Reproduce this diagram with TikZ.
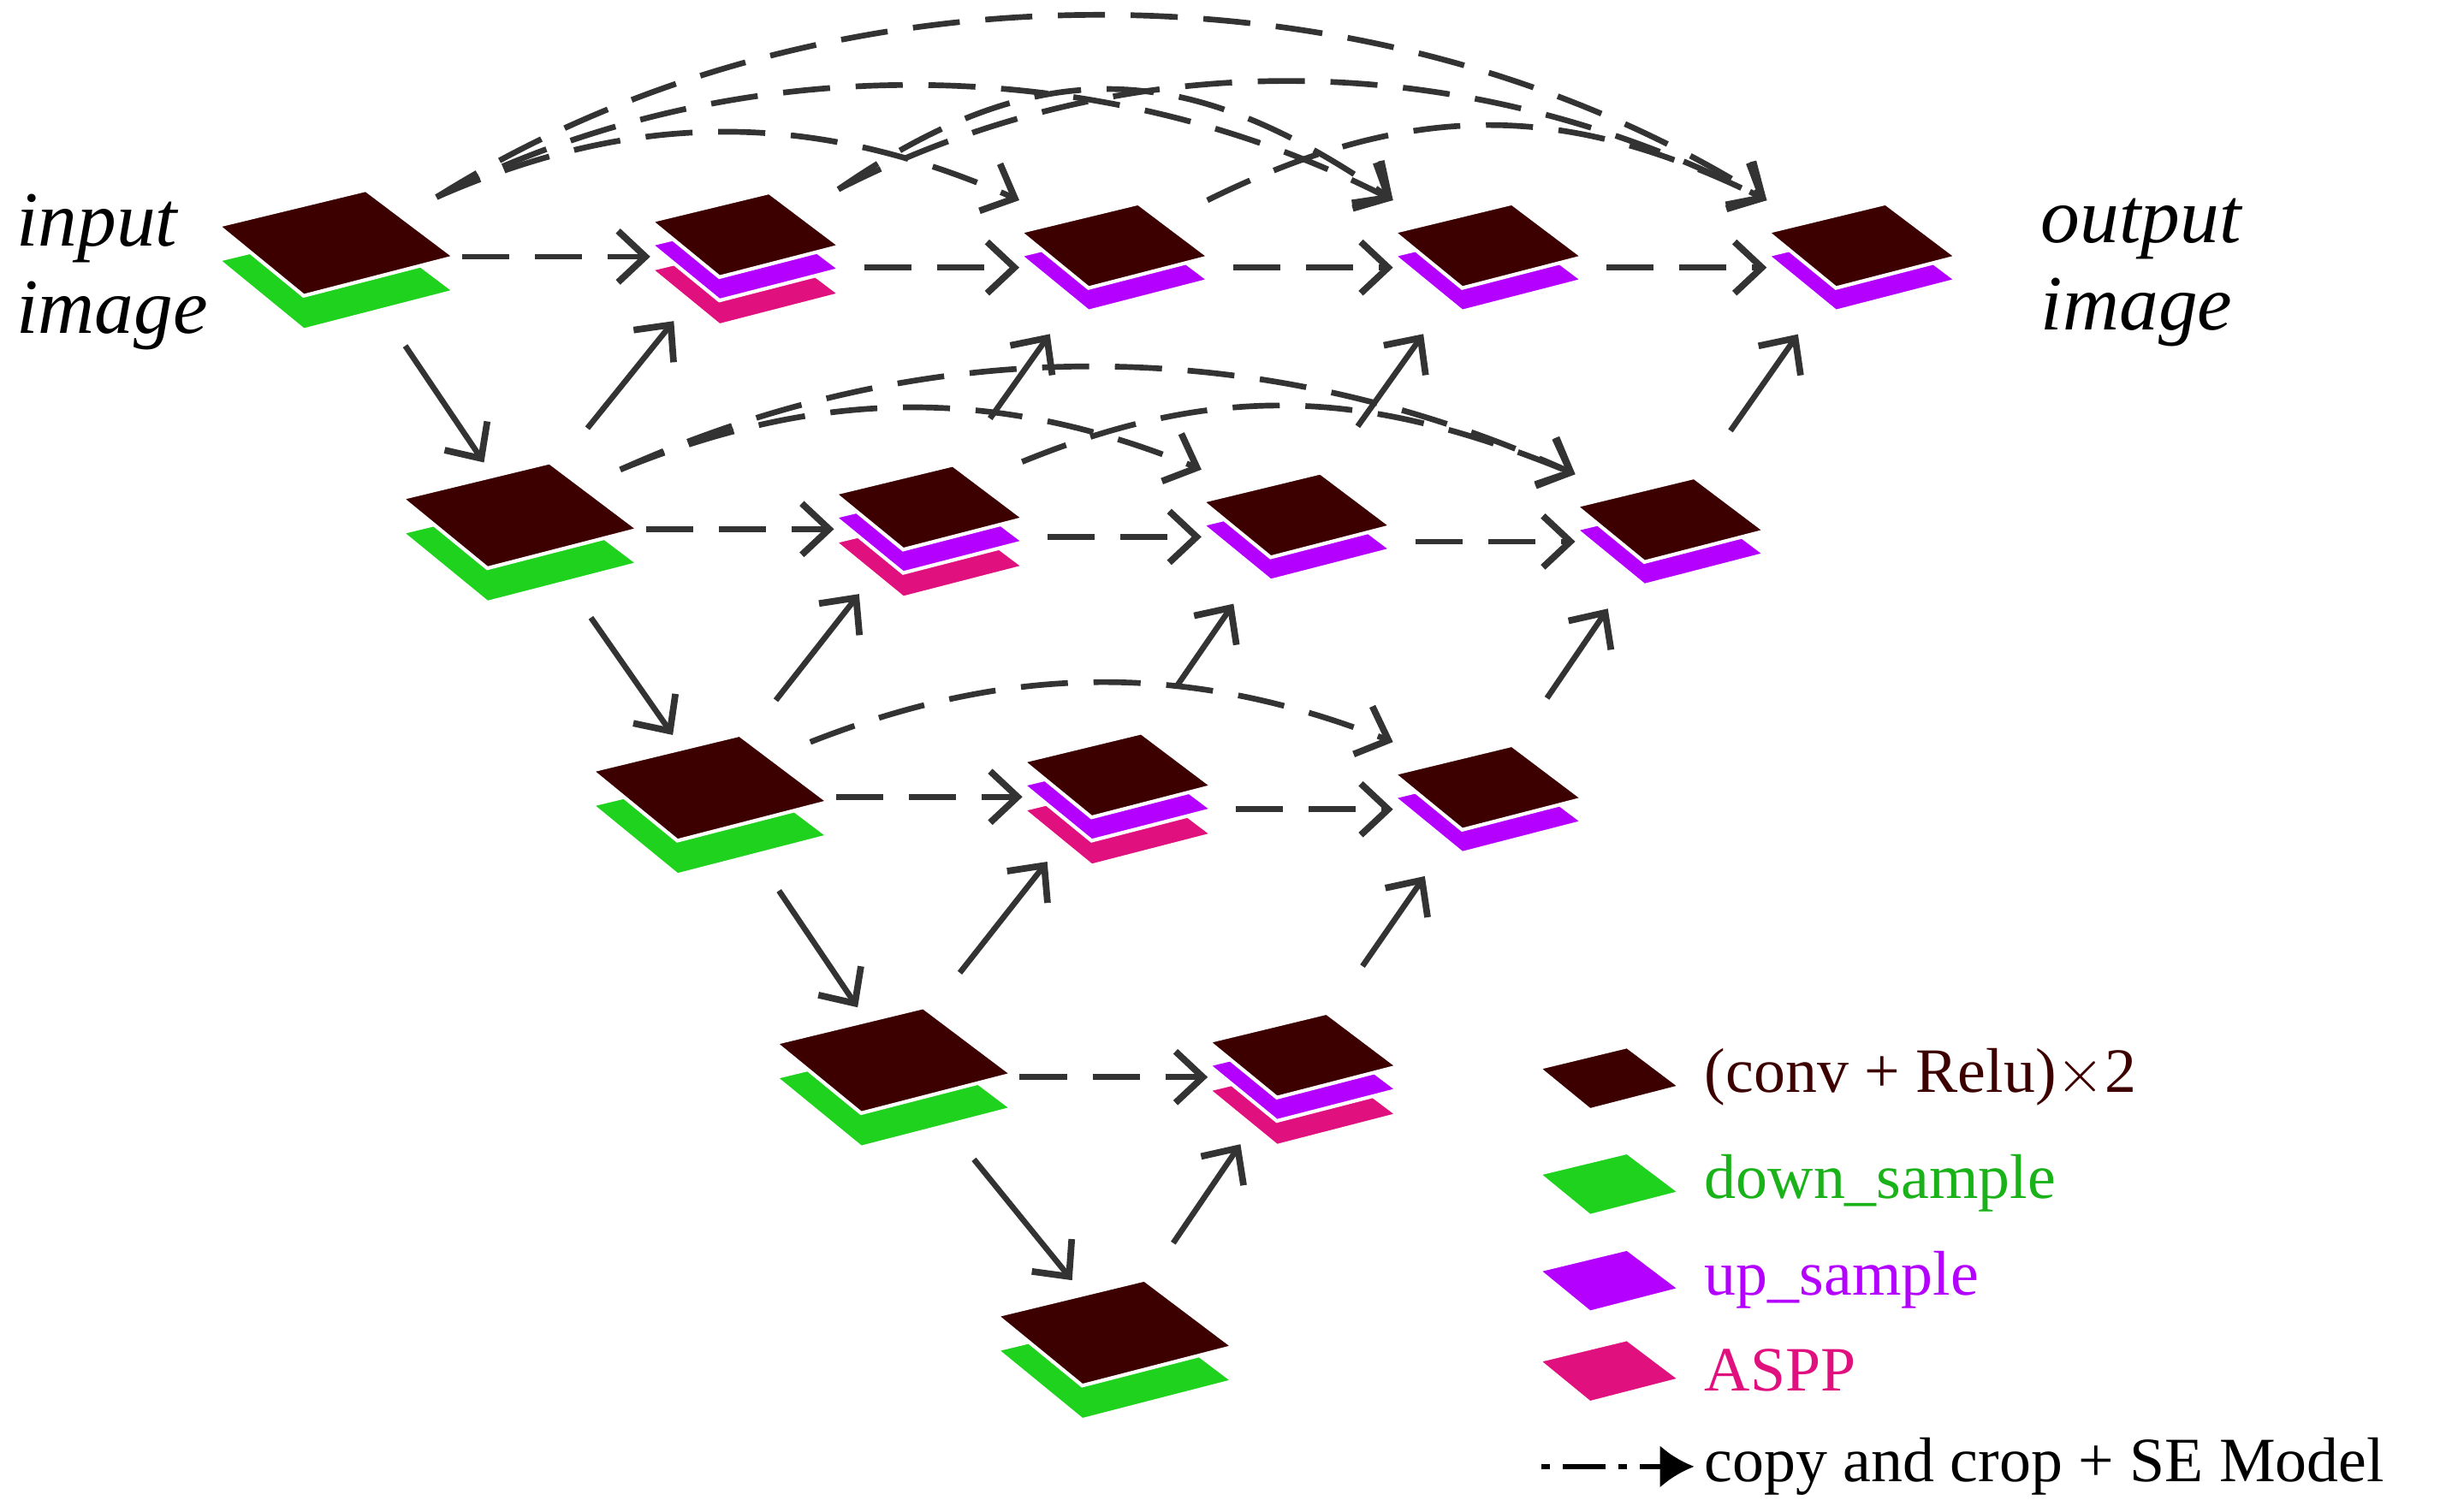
\documentclass[tikz,border=0pt]{standalone}
\usepackage{fontspec}
\setmainfont{Liberation Serif}
\usepackage{xcolor}
\usetikzlibrary{arrows.meta}
\definecolor{convc}{HTML}{3D0000}
\definecolor{downc}{HTML}{1ED21E}
\definecolor{upc}{HTML}{B400FF}
\definecolor{asppc}{HTML}{E0117F}
\definecolor{arrc}{HTML}{333333}
% one flat layer: centre, scale, colour, vertical offset
\newcommand\layer[4]{\filldraw[draw=white,line width=1.2pt,fill=#3,shift={(#1)}]
  (-75*#2,-10*#2+#4) -- (20*#2,-33*#2+#4) -- (77*#2,10*#2+#4) -- (-20*#2,35*#2+#4) -- cycle;}
\newcommand\enc[1]{\layer{#1}{1}{downc}{22}\layer{#1}{1}{convc}{0}}
\newcommand\dec[1]{\layer{#1}{0.8}{upc}{15}\layer{#1}{0.8}{convc}{0}}
\newcommand\decaspp[1]{\layer{#1}{0.8}{asppc}{31}\layer{#1}{0.8}{upc}{15}\layer{#1}{0.8}{convc}{0}}
\begin{document}
\begin{tikzpicture}[x=0.018194cm,y=-0.018194cm,
  box/.style={inner sep=0pt,minimum height=56*0.018194cm},
  enc/.style={box,minimum width=130*0.018194cm},
  dec/.style={box,minimum width=120*0.018194cm},
  arr/.style={draw=arrc,line width=1.9pt,-{Straight Barb[length=3.2mm,width=6mm,line width=2.2pt]}},
  copy/.style={arr,dash pattern=on 5.5mm off 3mm},
  down/.style={arr,shorten <=0.85cm,shorten >=0.1cm},
  up/.style={arr,shorten <=0.62cm,shorten >=0.65cm}]
\useasboundingbox (0,0) rectangle (1567,971);

% encoder column
\node [enc] (x00) at (215,155) {};
\node [enc] (x10) at (333,330) {};
\node [enc] (x20) at (455,505) {};
\node [enc] (x30) at (573,680) {};
\node [enc] (x40) at (715,855) {};
% nested decoder nodes
\node [dec] (x01) at (478,150) {};
\node [dec] (x11) at (596,325) {};
\node [dec] (x21) at (717,497) {};
\node [dec] (x31) at (836,677) {};
\node [dec] (x02) at (715,157) {};
\node [dec] (x12) at (832,330) {};
\node [dec] (x22) at (955,505) {};
\node [dec] (x03) at (955,157) {};
\node [dec] (x13) at (1072,333) {};
\node [dec] (x04) at (1195,157) {};

\enc{x00}\enc{x10}\enc{x20}\enc{x30}\enc{x40}
\decaspp{x01}\decaspp{x11}\decaspp{x21}\decaspp{x31}
\dec{x02}\dec{x12}\dec{x22}\dec{x03}\dec{x13}\dec{x04}

\node [align=left,font=\itshape\fontsize{26}{29}\selectfont] (in) at (72,175) {input\\image};
\node [align=left,font=\itshape\fontsize{26}{29}\selectfont] (out) at (1375,175) {output\\image};

% down and up arrows
\foreach \a/\b in {x00/x10,x10/x20,x20/x30,x30/x40}
  \draw [down] (\a) -- (\b);
\foreach \a/\b in {x10/x01,x20/x11,x11/x02,x30/x21,x21/x12,x12/x03,x40/x31,x31/x22,x22/x13,x13/x04}
  \draw [up] (\a) -- (\b);

% skip connections
\foreach \a/\b in {x00/x01,x01/x02,x02/x03,x03/x04,x10/x11,x11/x12,x12/x13,x20/x21,x21/x22,x30/x31}
  \draw [copy] ([xshift=0.3cm,yshift=-0.27cm]\a.east |- \b.west) -- ([yshift=-0.27cm]\b.west);
\draw [copy] (x00.north east) .. controls +(130,-57) and +(-130,-57) .. (x02.north west);
\draw [copy] (x00.north east) .. controls +(190,-97) and +(-190,-97) .. (x03.north west);
\draw [copy] (x00.north east) .. controls +(250,-157) and +(-250,-157) .. (x04.north west);
\draw [copy] (x01.north east) .. controls +(130,-90) and +(-130,-90) .. (x03.north west);
\draw [copy] (x01.north east) .. controls +(190,-97) and +(-190,-97) .. (x04.north west);
\draw [copy] (x02.north east) .. controls +(130,-64) and +(-130,-64) .. (x04.north west);
\draw [copy] (x10.north east) .. controls +(130,-53) and +(-130,-53) .. (x12.north west);
\draw [copy] (x10.north east) .. controls +(200,-90) and +(-200,-90) .. (x13.north west);
\draw [copy] (x11.north east) .. controls +(130,-53) and +(-130,-53) .. (x13.north west);
\draw [copy] (x20.north east) .. controls +(130,-51) and +(-130,-51) .. (x22.north west);

% legend
\coordinate (l1) at (1033,692);
\coordinate (l2) at (1033,760);
\coordinate (l3) at (1033,822);
\coordinate (l4) at (1033,880);
\layer{l1}{0.6}{convc}{0}
\layer{l2}{0.6}{downc}{0}
\layer{l3}{0.6}{upc}{0}
\layer{l4}{0.6}{asppc}{0}
\begin{scope}[every node/.style={anchor=west,font=\fontsize{21}{25}\selectfont}]
\node [text=convc] (t1) at (1088,692) {(conv + Relu)$\times$2};
\node [text=downc!85!black] (t2) at (1088,760) {down\_sample};
\node [text=upc] (t3) at (1088,822) {up\_sample};
\node [text=asppc] (t4) at (1088,880) {ASPP};
\node (t5) at (1088,942) {copy and crop + SE Model};
\end{scope}
\coordinate (l5) at (990,942);
\draw [black,line width=1.8pt,dash pattern=on 1mm off 1.5mm on 5mm off 1.5mm,-{Latex[length=4mm,width=5mm]}] (l5) -- (t5.west);
\end{tikzpicture}
\end{document}
